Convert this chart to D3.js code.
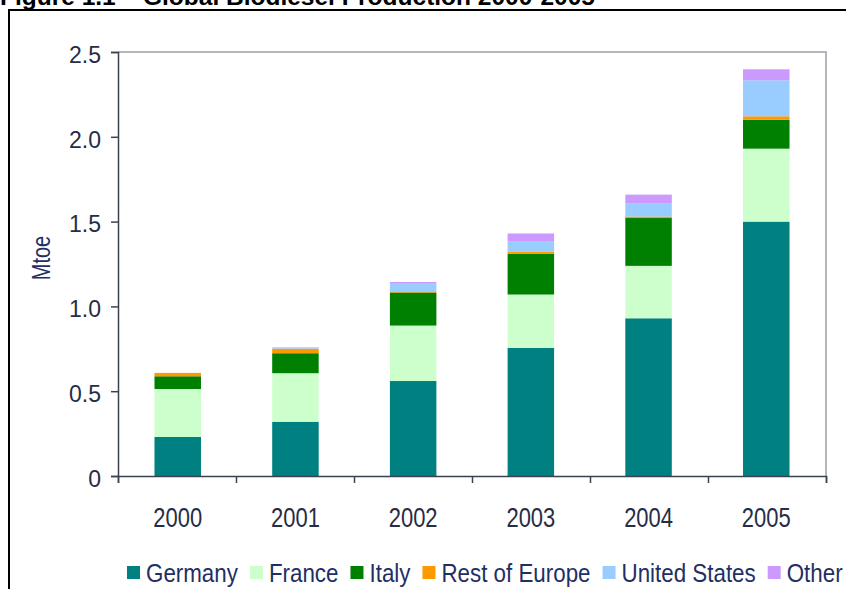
<!DOCTYPE html>
<html>
<head>
<meta charset="utf-8">
<script src="https://cdn.jsdelivr.net/npm/d3@7"></script>
<style>
  body { margin: 0; background: #fff; }
  svg { display: block; }
</style>
</head>
<body>
<svg id="chart" width="846" height="589"></svg>
<script>
// data (Mtoe)
const years = ["2000", "2001", "2002", "2003", "2004", "2005"];
const regions = ["Germany", "France", "Italy", "Rest of Europe", "United States", "Other"];
const germany = [0.23, 0.32, 0.56, 0.755, 0.93, 1.50];
const france = [0.283, 0.286, 0.327, 0.315, 0.309, 0.43];
const italy = [0.075, 0.118, 0.195, 0.24, 0.282, 0.171];
const restEurope = [0.02, 0.027, 0.007, 0.012, 0.009, 0.02];
const unitedStates = [0, 0.005, 0.049, 0.063, 0.076, 0.212];
const other = [0, 0.003, 0.006, 0.045, 0.053, 0.065];
const yTicks = [0, 0.5, 1.0, 1.5, 2.0, 2.5];
const colors = ["#008080", "#ccffcc", "#008000", "#ff9900", "#99ccff", "#cc99ff"];

const series = [germany, france, italy, restEurope, unitedStates, other];
const rows = years.map((yr, i) => {
    const r = {year: yr};
    regions.forEach((k, j) => r[k] = series[j][i]);
    return r;
});

const svg = d3.select("#chart");
const W = 846, H = 589;
const mLeft = 118, mRight = 826, mTop = 52, mBottom = 476;
const font = "'Liberation Sans', Arial, sans-serif";
const textCol = "#262d45";
const navy = "#1f2f63";

// figure frame (the page is cropped, only top/left of the box shows)
svg.append("rect")
    .attr("x", 9).attr("y", 10)
    .attr("width", W + 20).attr("height", H + 20)
    .attr("fill", "none").attr("stroke", "#000").attr("stroke-width", 2);

// title, cut off at the top edge like in the source
svg.append("text")
    .attr("x", 0).attr("y", 5)
    .style("font-family", font)
    .style("font-weight", "bold").style("font-size", "24.5px")
    .attr("fill", "#000")
    .text("Figure 1.1 \u2013 Global Biodiesel Production 2000-2005");

const x = d3.scaleBand().domain(years).range([mLeft, mRight])
    .paddingInner(0.605).paddingOuter(0.31);
const xEdge = d3.scaleLinear().domain([0, years.length]).range([mLeft, mRight]);
const y = d3.scaleLinear().domain([0, 2.5]).range([mBottom, mTop]);

// plot area top & right border
svg.append("path")
    .attr("d", `M${mLeft},${y(2.5)}H${mRight}V${mBottom}`)
    .attr("fill", "none").attr("stroke", "#9a9ea8").attr("stroke-width", 1.5);

const stack = d3.stack().keys(regions);
const layers = stack(rows);

svg.append("g").selectAll("g")
    .data(layers).join("g")
    .attr("fill", (d, i) => colors[i])
    .selectAll("rect")
    .data(d => d).join("rect")
    .attr("x", d => x(d.data.year))
    .attr("width", x.bandwidth())
    .attr("y", d => y(d[1]))
    .attr("height", d => y(d[0]) - y(d[1]));

// y axis
const yAxis = svg.append("g")
    .attr("transform", `translate(${mLeft},0)`)
    .call(d3.axisLeft(y).tickValues(yTicks).tickSize(7).tickPadding(10)
        .tickFormat(d => d === 0 ? "0" : d3.format(".1f")(d)));
yAxis.select(".domain").attr("stroke", "#3a4150").attr("stroke-width", 1.5);
yAxis.selectAll(".tick line").attr("stroke", "#3a4150").attr("stroke-width", 1.5);
yAxis.selectAll("text")
    .attr("dy", "0.45em")
    .style("font-family", font).style("font-size", "23px").attr("fill", textCol);

// x axis: ticks between the categories
const xTickAxis = svg.append("g")
    .attr("transform", `translate(0,${mBottom})`)
    .call(d3.axisBottom(xEdge).tickValues(d3.range(years.length + 1))
        .tickSize(7).tickFormat(""));
xTickAxis.select(".domain").attr("stroke", "#3a4150").attr("stroke-width", 1.5);
xTickAxis.selectAll(".tick line").attr("stroke", "#3a4150").attr("stroke-width", 1.5);

const xLab = svg.append("g")
    .attr("transform", `translate(0,${mBottom})`)
    .call(d3.axisBottom(x).tickSize(0));
xLab.select(".domain").remove();
xLab.selectAll("text")
    .attr("y", 51).attr("dy", null)
    .attr("transform", "scale(0.77,1)")
    .style("font-family", font).style("font-size", "28.5px").attr("fill", textCol);

// y label (condensed look)
svg.append("text")
    .attr("transform", "translate(50,258) rotate(-90) scale(0.8,1)")
    .attr("text-anchor", "middle")
    .style("font-family", font).style("font-size", "25px")
    .attr("fill", navy)
    .text("Mtoe");

// legend
const legend = svg.append("g").attr("transform", "translate(0,582)");
const lsx = 0.86;
let lx = 127;
regions.forEach((r, i) => {
    legend.append("rect")
        .attr("x", lx).attr("y", -16).attr("width", 13).attr("height", 13)
        .attr("fill", colors[i]);
    const t = legend.append("text")
        .attr("transform", `translate(${lx + 19},0) scale(${lsx},1)`)
        .style("font-family", font).style("font-size", "26px")
        .attr("fill", navy)
        .text(r);
    lx += 19 + t.node().getComputedTextLength() * lsx + 12;
});
</script>
</body>
</html>
